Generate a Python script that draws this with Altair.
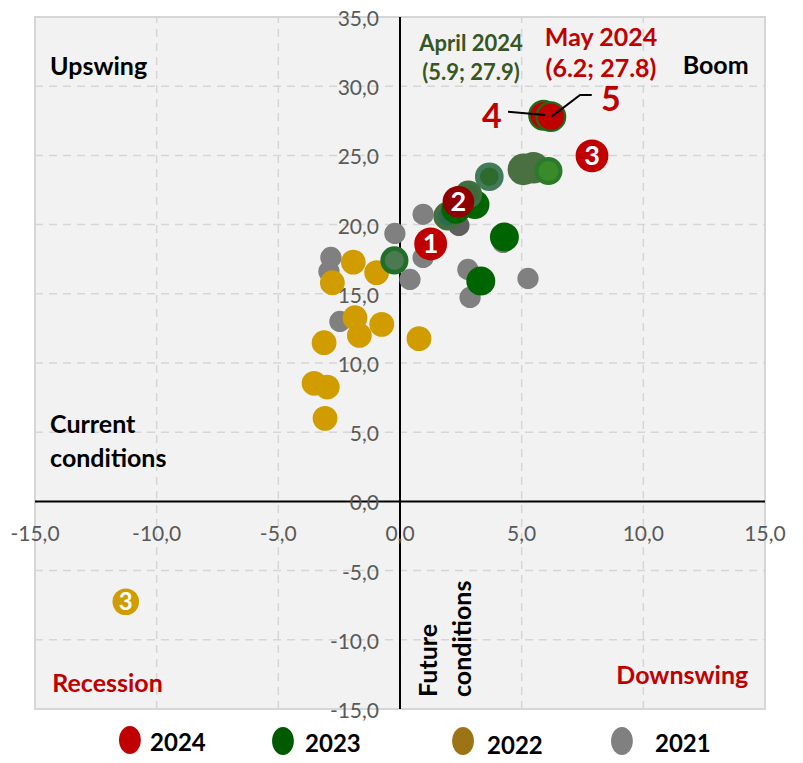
import altair as alt
import pandas as pd

# ---------------- data ----------------
# 2021 (gray)
x21 = [-2.84, -2.92, -2.47, -0.21, 0.41, 0.95, 0.95, 2.42, 2.79, 2.88, 4.23, 5.26]
y21 = [17.63, 16.62, 13.0, 19.36, 16.04, 17.63, 20.74, 19.94, 16.76, 14.74, 18.71, 16.11]
shade21 = ["g", "g", "g", "g", "g", "g", "g", "dark", "g", "g", "g", "g"]

# 2022 (gold)
x22 = [-1.92, -0.96, -2.78, -1.85, -1.67, -0.75, -3.12, 0.78, -3.53, -2.99, -3.08, -11.27]
y22 = [17.29, 16.53, 15.80, 13.27, 11.99, 12.79, 11.47, 11.76, 8.53, 8.26, 6.00, -7.25]
lab22 = ["", "", "", "", "", "", "", "", "", "", "", "3"]

# 2023 (green)
x23 = [-0.23, 3.32, 4.29, 3.67, 5.07, 5.48, 6.10, 1.96, 2.30, 3.08, 2.81]
y23 = [17.41, 15.92, 19.10, 23.46, 23.99, 24.11, 23.87, 20.61, 21.10, 21.46, 22.18]
shade23 = ["ringA", "solid", "solid", "ringB", "muted", "muted", "ringC", "ringD", "solid", "solid", "ringE"]

# 2024 (red)
x24 = [1.26, 2.40, 7.89, 5.90, 6.20]
y24 = [18.60, 21.65, 24.97, 27.90, 27.80]
lab24 = ["1", "2", "3", "", ""]
shade24 = ["red", "darkred", "red", "redring", "redring"]

ticks_x = [-15, -10, -5, 0, 5, 10, 15]
ticks_y = [35, 30, 25, 20, 15, 10, 5, 0, -5, -10, -15]

legend_years = ["2024", "2023", "2022", "2021"]
legend_colors = ["#C00000", "#005A00", "#9C7416", "#808080"]

# ---------------- styles ----------------
style = {
    "g": ("#808080", "#808080", 0, 452),
    "dark": ("#5f5f5f", "#5f5f5f", 0, 452),
    "gold": ("#D09C00", "#D09C00", 0, 616),
    "gold3": ("#D09C00", "#D09C00", 0, 707),
    "ringA": ("#4b7a50", "#1f6e2a", 4.5, 560),
    "solid": ("#006400", "#006400", 0, 840),
    "ringB": ("#2d6b2d", "#427a5c", 5, 560),
    "muted": ("#4a7042", "#4a7042", 0, 1000),
    "ringC": ("#3a8a2a", "#2a7a2a", 4, 580),
    "ringD": ("#2b6b52", "#456e40", 5, 560),
    "ringE": ("#3b6b3b", "#3f6e3f", 4, 560),
    "red": ("#C00000", "#C00000", 0, 1080),
    "darkred": ("#900000", "#900000", 0, 1000),
    "redring": ("#C00000", "#1a6e1a", 2.2, 820),
}


def frame(xs, ys, shades, labels=None):
    rows = []
    for i, (a, b, s) in enumerate(zip(xs, ys, shades)):
        f, st, sw, sz = style[s]
        rows.append(dict(x=a, y=b, fill=f, stroke=st, sw=sw, size=sz,
                         label=(labels[i] if labels else "")))
    return pd.DataFrame(rows)


d21 = frame(x21, y21, shade21)
d22 = frame(x22, y22, ["gold"] * 11 + ["gold3"], lab22)
d23 = frame(x23, y23, shade23)
d24 = frame(x24, y24, shade24, lab24)

XS = alt.Scale(domain=[-15, 15], nice=False, zero=False)
YS = alt.Scale(domain=[-15, 35], nice=False, zero=False)
FONT = "Lato"


def X(f="x"):
    return alt.X(f"{f}:Q", scale=XS, axis=None)


def Y(f="y"):
    return alt.Y(f"{f}:Q", scale=YS, axis=None)


def pts(df):
    return alt.Chart(df).mark_circle(opacity=1).encode(
        x=X(), y=Y(),
        fill=alt.Fill("fill:N", scale=None),
        stroke=alt.Stroke("stroke:N", scale=None),
        strokeWidth=alt.StrokeWidth("sw:Q", scale=None),
        size=alt.Size("size:Q", scale=None),
    )


# grid
gx = pd.DataFrame({"v": [-10, -5, 5, 10], "lo": -15, "hi": 35})
gy = pd.DataFrame({"v": [-10, -5, 5, 10, 15, 20, 25, 30], "lo": -15, "hi": 15})
grid_v = alt.Chart(gx).mark_rule(color="#d6d6d6", strokeWidth=1.5, strokeDash=[8, 6]).encode(
    x=X("v"), y=Y("lo"), y2="hi")
grid_h = alt.Chart(gy).mark_rule(color="#d6d6d6", strokeWidth=1.5, strokeDash=[8, 6]).encode(
    y=Y("v"), x=X("lo"), x2="hi")

axes_v = alt.Chart(pd.DataFrame({"v": [0], "lo": [-15], "hi": [35]})).mark_rule(
    color="black", strokeWidth=2).encode(x=X("v"), y=Y("lo"), y2="hi")
axes_h = alt.Chart(pd.DataFrame({"v": [0], "lo": [-15], "hi": [15]})).mark_rule(
    color="black", strokeWidth=2).encode(y=Y("v"), x=X("lo"), x2="hi")


def fmt(v):
    return f"{v:.1f}".replace(".", ",")


tx = pd.DataFrame({"x": ticks_x, "y": 0, "t": [fmt(v) for v in ticks_x]})
ty = pd.DataFrame({"x": 0, "y": ticks_y, "t": [fmt(v) for v in ticks_y]})
xlab = alt.Chart(tx).mark_text(font=FONT, fontSize=21, color="#595959", dy=34,
                               baseline="middle", align="center").encode(x=X(), y=Y(), text="t:N")
ylab = alt.Chart(ty).mark_text(font=FONT, fontSize=21, color="#595959", dx=-21, dy=3,
                               baseline="middle", align="right").encode(x=X(), y=Y(), text="t:N")

# point labels
def plabels(df, size):
    d = df[df["label"] != ""]
    return alt.Chart(d).mark_text(font=FONT, fontSize=size, fontWeight="bold", color="white",
                                  baseline="middle", align="center", dy=1).encode(
        x=X(), y=Y(), text="label:N")


# annotations
ann_black = pd.DataFrame({
    "t": ["Upswing", "Current", "conditions"],
    "x": [-14.38, -14.38, -14.38],
    "y": [30.81, 4.92, 2.49],
})
t_black = alt.Chart(ann_black).mark_text(font=FONT, fontSize=25, fontWeight="bold", color="black",
                                         align="left", baseline="alphabetic").encode(
    x=X(), y=Y(), text="t:N")
t_boom = alt.Chart(pd.DataFrame({"t": ["Boom"], "x": [12.97], "y": [30.88]})).mark_text(
    font=FONT, fontSize=25, fontWeight="bold", color="black", align="center",
    baseline="alphabetic").encode(x=X(), y=Y(), text="t:N")
t_rec = alt.Chart(pd.DataFrame({"t": ["Recession"], "x": [-14.29], "y": [-13.75]})).mark_text(
    font=FONT, fontSize=25, fontWeight="bold", color="#C00000", align="left",
    baseline="alphabetic").encode(x=X(), y=Y(), text="t:N")
t_down = alt.Chart(pd.DataFrame({"t": ["Downswing"], "x": [14.31], "y": [-13.19]})).mark_text(
    font=FONT, fontSize=25, fontWeight="bold", color="#C00000", align="right",
    baseline="alphabetic").encode(x=X(), y=Y(), text="t:N")
t_fut = alt.Chart(pd.DataFrame({"t": ["Future", "conditions"], "x": [1.52, 2.92],
                                "y": [-14.13, -14.13]})).mark_text(
    font=FONT, fontSize=25, fontWeight="bold", color="black", align="left",
    baseline="alphabetic", angle=270).encode(x=X(), y=Y(), text="t:N")

t_apr = alt.Chart(pd.DataFrame({"t": ["April 2024", "(5.9; 27.9)"], "x": [2.92, 2.92],
                                "y": [32.56, 30.45]})).mark_text(
    font=FONT, fontSize=22, fontWeight="bold", color="#375623", align="center",
    baseline="alphabetic").encode(x=X(), y=Y(), text="t:N")
t_may = alt.Chart(pd.DataFrame({"t": ["May 2024", "(6.2; 27.8)"], "x": [8.26, 8.26],
                                "y": [32.90, 30.64]})).mark_text(
    font=FONT, fontSize=25, fontWeight="bold", color="#C00000", align="center",
    baseline="alphabetic").encode(x=X(), y=Y(), text="t:N")
t_45 = alt.Chart(pd.DataFrame({"t": ["4", "5"], "x": [3.77, 8.67], "y": [26.98, 28.21]})).mark_text(
    font=FONT, fontSize=34, fontWeight="bold", color="#C00000", align="center",
    baseline="alphabetic").encode(x=X(), y=Y(), text="t:N")

lead = pd.DataFrame({
    "g": ["a", "a", "b", "b", "b"],
    "o": [0, 1, 0, 1, 2],
    "x": [4.44, 5.96, 7.88, 7.40, 6.23],
    "y": [28.16, 27.92, 29.36, 29.36, 27.80],
})
leaders = alt.Chart(lead).mark_line(color="black", strokeWidth=2).encode(
    x=X(), y=Y(), detail="g:N", order="o:Q")

# legend (below the plot)
leg = pd.DataFrame({
    "year": legend_years, "color": legend_colors,
    "cx": [-11.10, -4.81, 2.59, 9.12], "cy": [-17.24, -17.31, -17.31, -17.31],
    "tx": [-10.27, -3.90, 3.58, 10.48], "ty": [-18.03, -18.11, -18.22, -18.11],
})
ell = "M -0.78 0 A 0.78 1 0 1 1 0.78 0 A 0.78 1 0 1 1 -0.78 0 Z"
leg_sym = alt.Chart(leg).mark_point(shape=ell, filled=True, opacity=1, size=784).encode(
    x=X("cx"), y=Y("cy"), fill=alt.Fill("color:N", scale=None), stroke=alt.value(None))
leg_txt = alt.Chart(leg).mark_text(font=FONT, fontSize=24, fontWeight="bold", color="black",
                                   align="left", baseline="alphabetic").encode(
    x=X("tx"), y=Y("ty"), text="year:N")

chart = alt.layer(
    grid_v, grid_h, axes_v, axes_h, xlab, ylab,
    t_black, t_boom, t_rec, t_down, t_fut,
    pts(d21), pts(d22), pts(d23), pts(d24),
    plabels(d22, 24), plabels(d24, 27),
    leaders, t_apr, t_may, t_45,
    leg_sym, leg_txt,
).properties(
    width=730, height=692,
    padding={"left": 27, "top": 9, "right": 30, "bottom": 46},
    autosize=alt.AutoSizeParams(type="none"),
    background="white",
).configure_view(fill="#f2f2f2", stroke="#d6d6d6", strokeWidth=2)

chart.save("out.html", embed_options={"renderer": "svg", "actions": False})
